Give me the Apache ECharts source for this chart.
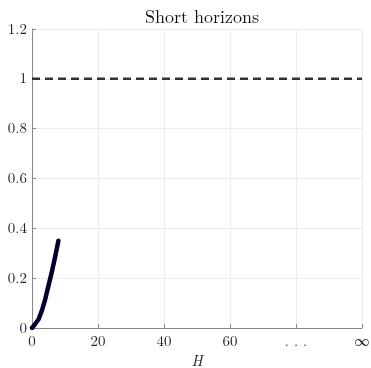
<!DOCTYPE html>
<html>
<head>
<meta charset="utf-8">
<script src="https://cdn.jsdelivr.net/npm/echarts@6/dist/echarts.min.js"></script>
<style>
  html, body { margin: 0; padding: 0; background: #fff; }
  #chart { width: 371px; height: 368px; }
</style>
</head>
<body>
<div id="chart"></div>
<script>
// Horizon values and the response over short horizons
const horizons = [0, 1, 2, 3, 4, 5, 6, 7, 8];
const response = [0, 0.017, 0.035, 0.07, 0.115, 0.17, 0.225, 0.285, 0.35];
// Long-run reference level
const refX = [0, 100];
const refY = [1, 1];
// Tick labels for the horizontal axis
const xTickLabels = { 0: '0', 20: '20', 40: '40', 60: '60', 80: '. . .', 100: '∞' };

const serif = '"Latin Modern Roman", "CMU Serif", "Liberation Serif", "DejaVu Serif", serif';

const chart = echarts.init(document.getElementById('chart'));
chart.setOption({
  animation: false,
  title: {
    text: 'Short horizons',
    left: 197,
    top: 3,
    textAlign: 'center',
    textStyle: { fontFamily: serif, fontSize: 18, fontWeight: 'normal', color: '#111' }
  },
  grid: { left: 32, right: 9, top: 29, bottom: 40, outerBoundsMode: 'none', containLabel: false },
  xAxis: {
    type: 'value',
    min: 0, max: 100, interval: 20,
    name: 'H',
    nameLocation: 'middle',
    nameGap: 25,
    nameTextStyle: { fontFamily: serif, fontSize: 15, fontStyle: 'italic', color: '#222' },
    axisLine: { show: true, lineStyle: { color: '#888', width: 1 } },
    axisTick: { show: true, inside: true, length: 4, lineStyle: { color: '#888' } },
    axisLabel: {
      fontFamily: serif, fontSize: 15, color: '#222', margin: 6,
      formatter: v => xTickLabels[v] !== undefined ? xTickLabels[v] : ''
    },
    splitLine: { show: true, lineStyle: { color: '#ececec', width: 1 } }
  },
  yAxis: {
    type: 'value',
    min: 0, max: 1.2, interval: 0.2,
    axisLine: { show: true, lineStyle: { color: '#888', width: 1 } },
    axisTick: { show: true, inside: true, length: 4, lineStyle: { color: '#888' } },
    axisLabel: {
      fontFamily: serif, fontSize: 15, color: '#222', margin: 5,
      formatter: v => String(Math.round(v * 10) / 10)
    },
    splitLine: { show: true, lineStyle: { color: '#ececec', width: 1 } }
  },
  series: [
    {
      type: 'line',
      data: refX.map((x, i) => [x, refY[i]]),
      symbol: 'none',
      lineStyle: { color: '#333', width: 2.5, type: [8, 5] },
      z: 2
    },
    {
      type: 'line',
      data: horizons.map((h, i) => [h, response[i]]),
      symbol: 'none',
      lineStyle: { color: '#00002e', width: 4.5, cap: 'round', join: 'round' },
      z: 3
    }
  ]
});
</script>
</body>
</html>
